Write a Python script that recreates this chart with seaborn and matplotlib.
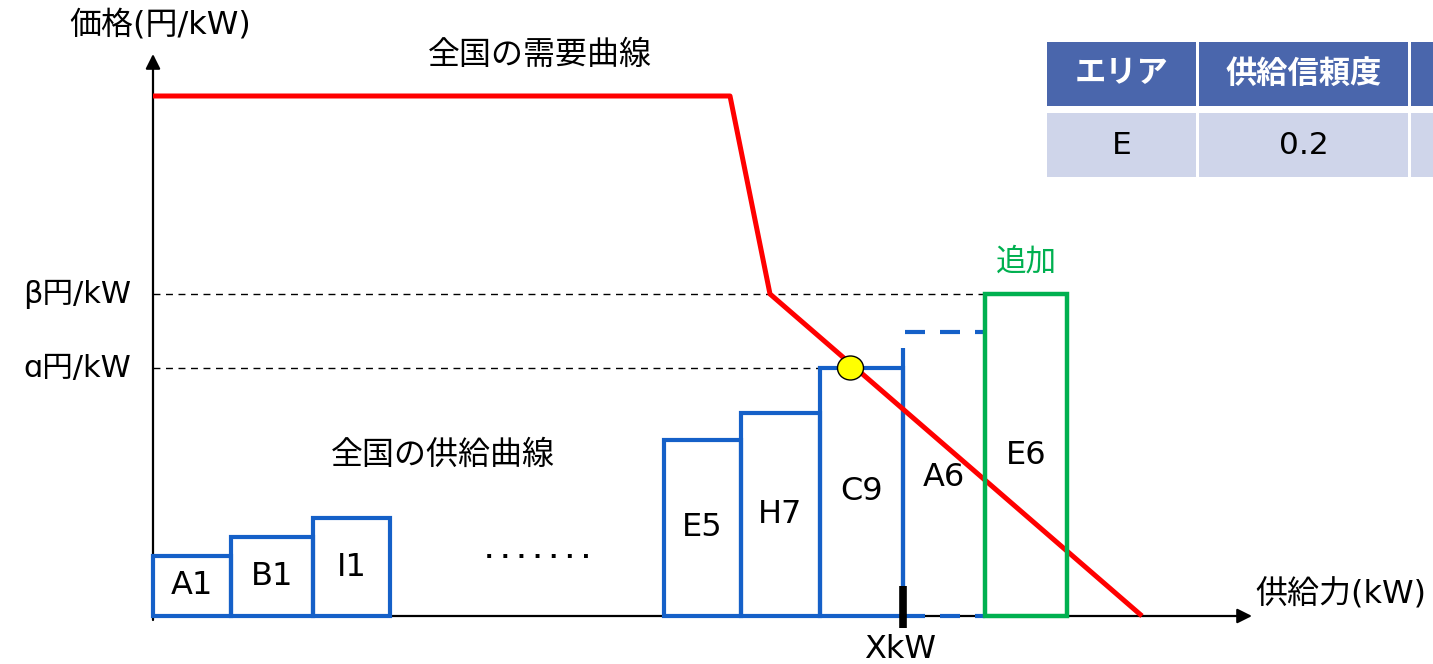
import numpy as np
import matplotlib
matplotlib.use("Agg")
import matplotlib.pyplot as plt
from matplotlib.patches import Rectangle, Ellipse
import seaborn as sns

# ---- data (capacity on x, price on y) ----
supply_names = ["A1", "B1", "I1", "E5", "H7", "C9"]
supply_left = [0, 78, 160, 511, 588, 667]
supply_width = [78, 82, 77, 77, 79, 83]
supply_price = [60, 79, 98, 176, 203, 248]

marginal_name = "A6"
marginal_left = 750
marginal_width = 82
marginal_price = 284
marginal_visible_top = 268

added_name = "E6"
added_left = 832
added_width = 82
added_price = 322

demand_x = [0, 577, 617, 989]
demand_y = [520, 520, 322, 0]

alpha_price = 248
beta_price = 322
x_cleared = 750

table_header = ["エリア", "供給信頼度", ""]
table_row = ["E", "0.2", ""]

BLUE = "#1560C8"
GREEN = "#00B050"
RED = "#FF0000"
CJK = ["DejaVu Sans", "Noto Sans CJK JP"]

sns.set_theme(style="white")
plt.rcParams["font.family"] = CJK
plt.rcParams["text.color"] = "black"

fig = plt.figure(figsize=(14.33, 6.64), dpi=100)
ax = fig.add_axes([0, 0, 1, 1])
ax.set_xlim(-153, 1280)
ax.set_ylim(-48, 616)
ax.axis("off")

# axes arrows
ax.annotate("", xy=(0, 562), xytext=(0, -4),
            arrowprops=dict(arrowstyle="-|>", color="black", lw=1.6,
                            mutation_scale=22, shrinkA=0, shrinkB=0))
ax.annotate("", xy=(1099, 0), xytext=(0, 0),
            arrowprops=dict(arrowstyle="-|>", color="black", lw=1.6,
                            mutation_scale=22, shrinkA=0, shrinkB=0))

# price guide lines
ax.plot([0, added_left], [beta_price, beta_price], color="black", lw=1.0,
        ls=(0, (5, 4)), zorder=1)
ax.plot([0, supply_left[-1]], [alpha_price, alpha_price], color="black", lw=1.0,
        ls=(0, (5, 4)), zorder=1)

LABEL_SIZE = 23

# supply blocks
ax.bar(supply_left, supply_price, width=supply_width, align="edge",
       fill=False, edgecolor=BLUE, linewidth=3.0, zorder=3)
for p in ax.patches:
    p.set_joinstyle("miter")
for name, l, w, h in zip(supply_names, supply_left, supply_width, supply_price):
    ax.text(l + w / 2, h / 2, name, ha="center", va="center",
            fontsize=LABEL_SIZE, zorder=6)

# marginal block (partially shown)
ax.plot([marginal_left, marginal_left], [0, marginal_visible_top], color=BLUE,
        lw=3.0, solid_capstyle="butt", zorder=3)
ax.plot([marginal_left + 2, added_left], [marginal_price, marginal_price],
        color=BLUE, lw=3.0, ls=(0, (4.8, 3.6)), zorder=3)
ax.plot([marginal_left + 2, added_left], [0, 0], color=BLUE, lw=3.0,
        ls=(0, (4.8, 3.6)), zorder=3)
ax.text(marginal_left + marginal_width / 2, marginal_visible_top / 2 + 5,
        marginal_name, ha="center", va="center", fontsize=LABEL_SIZE, zorder=6)

# demand curve
sns.lineplot(x=demand_x, y=demand_y, sort=False, estimator=None, color=RED,
             lw=3.6, ax=ax, zorder=4, legend=False)
ax.lines[-1].set_solid_capstyle("butt")

# added block
added = Rectangle((added_left, 0), added_width, added_price, fill=False,
                  edgecolor=GREEN, lw=3.2, joinstyle="miter", zorder=5)
ax.add_patch(added)
ax.text(added_left + added_width / 2, added_price / 2, added_name,
        ha="center", va="center", fontsize=LABEL_SIZE, zorder=6)
ax.text(added_left + added_width / 2, added_price + 32, "追加", ha="center",
        va="center", fontsize=22, color=GREEN)

# clearing point
seg = np.argmax(np.array(demand_y) <= alpha_price)
cx = np.interp(alpha_price, demand_y[seg - 1:seg + 1][::-1], demand_x[seg - 1:seg + 1][::-1])
ax.add_patch(Ellipse((cx - 5, alpha_price), 26, 24, facecolor="#FFFF00",
                     edgecolor="black", lw=1.0, zorder=7))

# cleared quantity marker
ax.plot([x_cleared, x_cleared], [-12, 30], color="black", lw=5.5,
        solid_capstyle="butt", zorder=8)
ax.text(x_cleared - 3, -34, "XkW", ha="center", va="center", fontsize=LABEL_SIZE)

# axis labels and annotations
ax.text(7, 591, "価格(円/kW)", ha="center", va="center", fontsize=23)
ax.text(1102, 21, "供給力(kW)", ha="left", va="center", fontsize=23)
ax.text(-22, beta_price, "β円/kW", ha="right", va="center", fontsize=22)
ax.text(-22, alpha_price, "ɑ円/kW", ha="right", va="center", fontsize=22)
ax.text(387, 561, "全国の需要曲線", ha="center", va="center", fontsize=23)
ax.text(290, 161, "全国の供給曲線", ha="center", va="center", fontsize=23)
ax.text(385, 64, ". . . . . . .", ha="center", va="center", fontsize=16,
        fontweight="bold")

# table in the top-right corner
col_x = [894, 1046, 1258]
col_w = [149, 209, 100]
rows = [(table_header, "#4A66AC", "white", "bold", 510, 64),
        (table_row, "#CFD5EA", "black", "normal", 439, 64)]
for cells, bg, fg, weight, y0, h in rows:
    for text, x0, w in zip(cells, col_x, col_w):
        ax.add_patch(Rectangle((x0, y0), w, h, facecolor=bg, edgecolor="none",
                               zorder=9, clip_on=False))
        if text:
            ax.text(x0 + w / 2, y0 + h / 2, text, ha="center", va="center",
                    fontsize=22.5, color=fg, fontweight=weight, zorder=10)

fig.savefig("out.png", dpi=100)
